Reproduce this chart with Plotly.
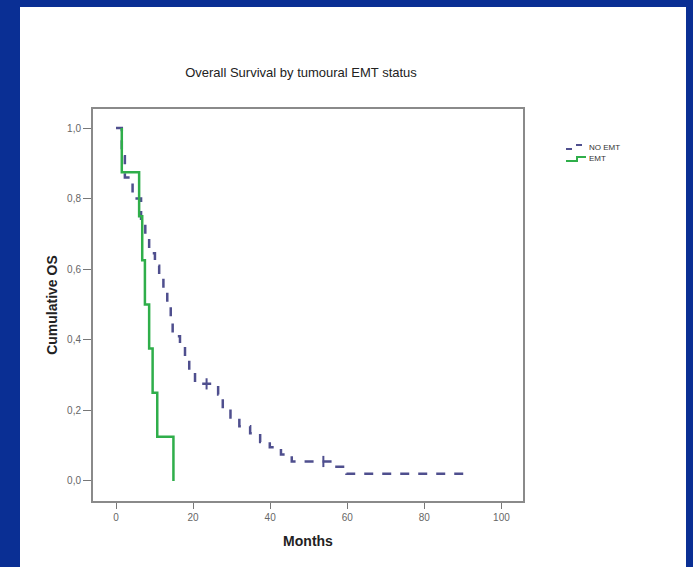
import plotly.graph_objects as go

# NO EMT (dashed) Kaplan-Meier step curve
noemt_months = [0, 1.5, 2.3, 4.3, 6.5, 7.6, 8.6, 10.1, 11.2, 12.3, 13.3, 14.2, 14.7,
                16.6, 17.9, 19.0, 20.5, 26.5, 27.7, 29.7, 32.0, 34.8, 37.4, 39.9,
                42.8, 45.6, 57.2, 59.8, 92.3]
noemt_surv = [1.0, 0.92, 0.86, 0.80, 0.73, 0.69, 0.645, 0.61, 0.575, 0.535, 0.50, 0.46, 0.41,
              0.385, 0.35, 0.31, 0.275, 0.245, 0.205, 0.18, 0.155, 0.135, 0.11, 0.095,
              0.075, 0.055, 0.04, 0.02, 0.02]
noemt_cens_months = [23.5, 53.8]
noemt_cens_surv = [0.275, 0.055]

# EMT (solid green)
emt_months = [1.5, 1.5, 6.0, 6.8, 7.5, 8.6, 9.5, 10.7, 14.9, 14.9]
emt_surv = [1.0, 0.875, 0.75, 0.625, 0.5, 0.375, 0.25, 0.125, 0.0, 0.0]

x_ticks = [0, 20, 40, 60, 80, 100]
y_ticks = [0.0, 0.2, 0.4, 0.6, 0.8, 1.0]

series_names = ["NO EMT", "EMT"]
series_colors = ["#4f4f8e", "#2fae4a"]

title_text = "Overall Survival by tumoural EMT status"
x_title = "Months"
y_title = "Cumulative OS"

fig = go.Figure()

fig.add_trace(go.Scatter(
    x=noemt_months, y=noemt_surv, mode="lines", line_shape="hv",
    name=series_names[0], showlegend=False,
    line=dict(color=series_colors[0], width=2.5, dash="dash"),
))
fig.add_trace(go.Scatter(
    x=noemt_cens_months, y=noemt_cens_surv, mode="markers", showlegend=False,
    marker=dict(symbol="line-ns", size=8, line=dict(color=series_colors[0], width=2)),
))
fig.add_trace(go.Scatter(
    x=emt_months, y=emt_surv, mode="lines", line_shape="hv",
    name=series_names[1], showlegend=False,
    line=dict(color=series_colors[1], width=2.5),
))

L, R, T, B = 93, 523, 109, 501
W, H = 693, 567
pw, ph = R - L, B - T

def px(x):
    return (x - L) / pw

def py(y):
    return (B - y) / ph

shapes = [dict(type="rect", xref="paper", yref="paper",
               x0=px(20), x1=px(686), y0=py(567), y1=py(7),
               fillcolor="white", line=dict(width=0), layer="below")]

# small SPSS-style legend keys
legend_y = [147, 158]
# NO EMT key: two short dashes stepping up
shapes.append(dict(type="line", xref="paper", yref="paper",
                   x0=px(566), x1=px(572), y0=py(149), y1=py(149),
                   line=dict(color=series_colors[0], width=2)))
shapes.append(dict(type="line", xref="paper", yref="paper",
                   x0=px(576), x1=px(582), y0=py(145), y1=py(145),
                   line=dict(color=series_colors[0], width=2)))
# EMT key: step
shapes.append(dict(type="path", xref="paper", yref="paper",
                   path="M {} {} L {} {} L {} {} L {} {}".format(
                       px(566), py(161), px(577), py(161), px(577), py(157), px(586), py(157)),
                   line=dict(color=series_colors[1], width=2)))

annotations = []
for name, yy in zip(series_names, legend_y):
    annotations.append(dict(text=name, xref="paper", yref="paper",
                            x=px(587), y=py(yy), xanchor="left", yanchor="middle",
                            showarrow=False, font=dict(size=8, color="#333")))

fig.update_layout(
    width=W, height=H,
    margin=dict(l=L, r=W - R, t=T, b=H - B),
    paper_bgcolor="#0a2f94",
    plot_bgcolor="#f0f0f0",
    separators=",.",
    shapes=shapes,
    annotations=annotations,
    showlegend=False,
    font=dict(family="Liberation Sans, Arial", color="#444"),
    title=dict(text=title_text, x=px(301), xanchor="center", xref="paper",
               y=1 - 72 / H, yanchor="middle",
               font=dict(size=13, color="#222")),
    xaxis=dict(range=[-5.97, 105.6], tickvals=x_ticks, ticks="outside", ticklen=6,
               tickcolor="#777", tickfont=dict(size=10, color="#666"),
               showgrid=False, zeroline=False, showline=True, linecolor="#8a8a8a",
               linewidth=2, mirror=True,
               title=dict(text="<b>" + x_title + "</b>", font=dict(size=14, color="#222"),
                          standoff=14)),
    yaxis=dict(range=[-0.057, 1.054], tickvals=y_ticks, tickformat=".1f", ticks="outside",
               ticklen=8, tickcolor="#777", tickfont=dict(size=10, color="#666"),
               showgrid=False, zeroline=False, showline=True, linecolor="#8a8a8a",
               linewidth=2, mirror=True,
               title=dict(text="<b>" + y_title + "</b>", font=dict(size=14, color="#222"),
                          standoff=6)),
)

fig.write_html("out.html")
